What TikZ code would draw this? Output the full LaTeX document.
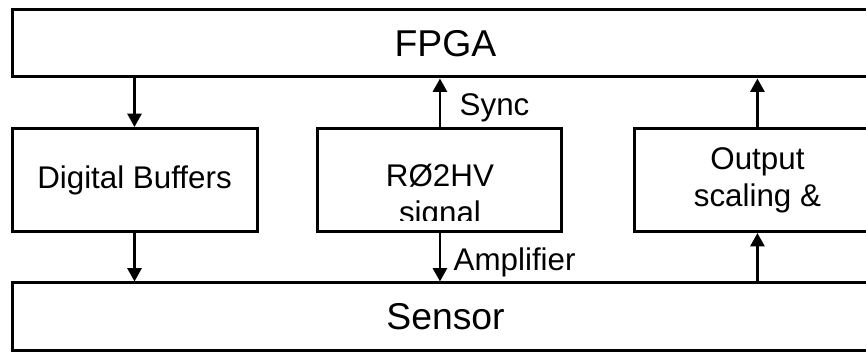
\documentclass[tikz,border=0pt]{standalone}
\usepackage{fontspec}
\setmainfont{Liberation Sans}
\usepackage{tikz}
\usetikzlibrary{arrows.meta, positioning}
\tikzstyle{bar} = [rectangle, minimum width=650.25pt, minimum height=50.25pt, align=center, draw=black, line width=2.25pt, font=\fontsize{28}{33}\selectfont]
\tikzstyle{block} = [rectangle, minimum width=183.75pt, minimum height=77.25pt, align=center, draw=black, line width=2.25pt, font=\fontsize{23.5}{27.8}\selectfont]
\tikzstyle{lbl} = [font=\fontsize{23.5}{27.8}\selectfont]
\tikzstyle{arrow} = [line width=1.9pt, -{Triangle[length=10pt, width=10.5pt]}]

\begin{document}
\begin{tikzpicture}[x=0.75pt, y=-0.75pt]
            \useasboundingbox (0,0) rectangle (866,352);
            % Nodes
            \node (fpga) [bar] at (445.5,43.5) {FPGA};
            \node (buffers) [block] at (134.5,180) {Digital Buffers};
            \node (rohv) [block, right of=buffers, node distance=229.1pt, minimum width=183pt] {};
            \node (outscale) [block, right of=rohv, node distance=238.1pt] {Output\\scaling \&};
            \node (sensor) [bar] at (445.5,316.5) {Sensor};

            % text of the middle block, cut off at its lower part
            \begin{scope}
                \clip (rohv.north west) rectangle ([yshift=9pt]rohv.south east);
                \node (rohvtext) [lbl, align=center, yshift=-12.6pt] at (rohv.center) {RØ2HV\\signal};
            \end{scope}

            % Edges
            \draw [arrow] (buffers.north |- fpga.south) -- (buffers.north);
            \draw [arrow] (buffers.south) -- (buffers.south |- sensor.north);
            \draw [arrow] (rohv.north) -- node[lbl, right, xshift=10.5pt, yshift=-4pt] {Sync} (rohv.north |- fpga.south);
            \draw [arrow] (rohv.south) -- node[lbl, right, xshift=6pt, yshift=-4pt] {Amplifier} (rohv.south |- sensor.north);
            \draw [arrow] (outscale.south |- sensor.north) -- (outscale.south);
            \draw [arrow] (outscale.north) -- (outscale.north |- fpga.south);
        \end{tikzpicture}
\end{document}
